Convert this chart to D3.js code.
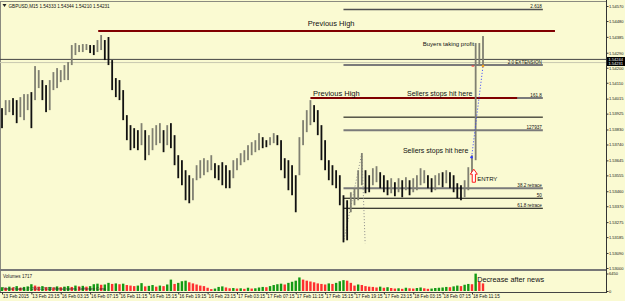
<!DOCTYPE html>
<html>
<head>
<meta charset="utf-8">
<script src="https://cdn.jsdelivr.net/npm/d3@7"></script>
<style>
  body { margin: 0; background: #fafad2; }
  svg { display: block; font-family: "Liberation Sans", Arial, sans-serif; }
</style>
</head>
<body>
<div id="container"></div>
<script>
'use strict'

// GBPUSD M15, shown here as 30 min bars
const timeLabels = ['13 Feb 2015','13 Feb 23:15','16 Feb 03:15','16 Feb 07:15','16 Feb 11:15','16 Feb 15:15',
  '16 Feb 19:15','16 Feb 23:15','17 Feb 03:15','17 Feb 07:15','17 Feb 11:15','17 Feb 15:15','17 Feb 19:15',
  '17 Feb 23:15','18 Feb 03:15','18 Feb 07:15','18 Feb 11:15']

const priceTicks = [1.54570,1.54480,1.54385,1.54290,1.54200,1.54110,1.54015,1.53925,1.53830,
  1.53740,1.53645,1.53555,1.53460,1.53370,1.53275,1.53185,1.53090,1.53000]

const highs = [
  1.53958,1.54006,1.54006,1.54018,1.54006,1.54024,1.54042,1.54042,1.54054,1.54210,
  1.54186,1.54126,1.54096,1.54126,1.54174,1.54198,1.54186,1.54216,1.54234,1.54336,
  1.54348,1.54336,1.54342,1.54342,1.54336,1.54336,1.54366,1.54396,1.54366,1.54384,
  1.54246,1.54138,1.54126,1.54066,1.53916,1.53856,1.53838,1.53826,1.53868,1.53826,
  1.53796,1.53838,1.53856,1.53868,1.53826,1.53856,1.53868,1.53796,1.53676,1.53646,
  1.53586,1.53556,1.53538,1.53616,1.53646,1.53658,1.53646,1.53676,1.53628,1.53616,
  1.53634,1.53616,1.53586,1.53646,1.53658,1.53688,1.53706,1.53736,1.53754,1.53766,
  1.53808,1.53784,1.53766,1.53784,1.53808,1.53796,1.53766,1.53658,1.53646,1.53616,
  1.53556,1.53784,1.53886,1.53946,1.54006,1.53976,1.53946,1.53856,1.53766,1.53646,
  1.53616,1.53586,1.53556,1.53436,1.53406,1.53454,1.53478,1.53586,1.53688,1.53586,
  1.53556,1.53598,1.53610,1.53574,1.53556,1.53526,1.53538,1.53514,1.53538,1.53526,
  1.53544,1.53526,1.53538,1.53556,1.53598,1.53586,1.53556,1.53538,1.53556,1.53568,
  1.53574,1.53586,1.53574,1.53556,1.53508,1.53496,1.53526,1.53604,1.53676,1.54348,
  1.54348,1.54390]

const lows = [
  1.53838,1.53916,1.53934,1.53916,1.53868,1.53904,1.53886,1.53946,1.53838,1.54006,
  1.54078,1.54006,1.53934,1.53946,1.54066,1.54078,1.54114,1.54126,1.54126,1.54216,
  1.54276,1.54294,1.54294,1.54306,1.54288,1.54276,1.54294,1.54306,1.54246,1.54216,
  1.54066,1.54024,1.54006,1.53886,1.53766,1.53706,1.53718,1.53706,1.53736,1.53646,
  1.53676,1.53706,1.53736,1.53748,1.53694,1.53736,1.53718,1.53616,1.53538,1.53496,
  1.53406,1.53388,1.53406,1.53526,1.53538,1.53556,1.53574,1.53586,1.53538,1.53526,
  1.53496,1.53478,1.53478,1.53538,1.53586,1.53616,1.53634,1.53646,1.53676,1.53694,
  1.53706,1.53718,1.53724,1.53736,1.53748,1.53736,1.53586,1.53538,1.53466,1.53436,
  1.53334,1.53556,1.53736,1.53814,1.53856,1.53874,1.53796,1.53646,1.53586,1.53526,
  1.53496,1.53478,1.53376,1.53154,1.53166,1.53334,1.53376,1.53406,1.53496,1.53448,
  1.53454,1.53496,1.53514,1.53478,1.53454,1.53436,1.53448,1.53430,1.53454,1.53424,
  1.53466,1.53436,1.53454,1.53466,1.53496,1.53508,1.53478,1.53454,1.53466,1.53496,
  1.53484,1.53508,1.53478,1.53454,1.53418,1.53406,1.53424,1.53466,1.53574,1.53646,
  1.54210,1.54210]

const volumes = [
  1400,1100,1600,1300,1800,1200,1500,1700,2500,2000,
  1600,1800,1400,1500,1300,1700,1400,1600,1800,1500,
  2000,1700,1900,1600,1800,2500,2700,2300,2400,3000,
  2600,2800,2500,2700,2200,2000,1800,2000,2900,1700,
  1900,2200,1600,2000,1800,2400,4200,2600,3000,3600,
  3800,3200,2800,2400,2000,1800,1200,700,900,1500,
  1700,1300,1000,1100,900,1000,800,1200,900,1000,
  1300,1500,1400,1800,2200,2500,2700,2400,3000,3400,
  3800,5000,4200,3800,3500,3200,2800,2600,2400,2800,
  2600,3000,3600,4000,3800,3000,2000,2400,2200,1800,
  1600,1500,1300,1600,1200,1400,1100,900,1000,800,
  1200,1000,900,1100,1300,1000,800,900,1100,1200,
  1300,1500,1400,1700,2000,1800,2300,2600,2500,6400,
  3400,2800]

// fibonacci expansion levels
const fibLevels = [1.54549, 1.54216, 1.54018, 1.53904, 1.53826, 1.53478, 1.53418, 1.53358]
const fibNames = ['2.618', '2.0 EXTENSION', '161.8', '', '127937', '38.2 retrace', '50', '61.8 retrace']
const prevHighs = [1.54420, 1.54018]

const w = 625, h = 301
const axisX = 606
const small = 4.6
const axisFont = 4.0

const x = d3.scaleLinear().domain([0, highs.length - 1]).range([2, 483])
const y = d3.scaleLinear().domain([1.53, 1.5457]).range([268, 6])
const yv = d3.scaleLinear().domain([0, 6450]).range([291, 273.5])

const svg = d3.select('#container').append('svg').attr('width', w).attr('height', h)

svg.append('rect').attr('width', w).attr('height', h).attr('fill', '#fafad2')

// frame + panel separator
svg.append('line').attr('x1', 0).attr('x2', axisX).attr('y1', 1.5).attr('y2', 1.5).attr('stroke', '#8a8a80')
svg.append('line').attr('x1', 0.5).attr('x2', 0.5).attr('y1', 1).attr('y2', 292).attr('stroke', '#8a8a80')
svg.append('line').attr('x1', 0).attr('x2', axisX).attr('y1', 270).attr('y2', 270).attr('stroke', '#777').attr('stroke-width', 2)
svg.append('line').attr('x1', 0).attr('x2', axisX).attr('y1', 292.5).attr('y2', 292.5).attr('stroke', '#444')

// bid / ask lines
svg.append('line').attr('x1', 0).attr('x2', axisX).attr('y1', y(1.54250)).attr('y2', y(1.54250)).attr('stroke', '#444')
svg.append('line').attr('x1', 0).attr('x2', axisX).attr('y1', y(1.54231)).attr('y2', y(1.54231)).attr('stroke', '#c8c8b0')

// fib lines
const fibStart = 93, fibEnd = 147.3
const fibColor = i => [3, 6, 7].includes(i) ? '#000' : (i === 0 ? '#505050' : '#7a7a7a')
const fibWidth = i => [3, 6, 7].includes(i) ? 1 : (i === 0 ? 1.4 : 2)
svg.append('g').selectAll('line').data(fibLevels).enter().append('line')
  .attr('x1', x(fibStart)).attr('x2', x(fibEnd))
  .attr('y1', d => y(d)).attr('y2', d => y(d))
  .attr('stroke', (d, i) => fibColor(i)).attr('stroke-width', (d, i) => fibWidth(i))
svg.append('g').selectAll('text').data(fibLevels).enter().append('text')
  .attr('x', x(fibEnd) - 1).attr('y', d => y(d) - 1.5)
  .attr('text-anchor', 'end').attr('font-size', small).attr('fill', '#111')
  .text((d, i) => fibNames[i])

// previous high lines
const phSpans = [[26.2, 150.6], [84, 140.3]]
svg.append('g').selectAll('line').data(prevHighs).enter().append('line')
  .attr('x1', (d, i) => x(phSpans[i][0])).attr('x2', (d, i) => x(phSpans[i][1]))
  .attr('y1', d => y(d)).attr('y2', d => y(d))
  .attr('stroke', '#800000').attr('stroke-width', 2)

// dotted fib trend lines
const dotted = (a, b, color) => svg.append('line')
  .attr('x1', x(a[0])).attr('y1', y(a[1])).attr('x2', x(b[0])).attr('y2', y(b[1]))
  .attr('stroke', color).attr('stroke-width', 1).attr('stroke-dasharray', '1,2')
dotted([93, 1.53154], [98, 1.53688], '#8a8a8a')
dotted([98, 1.53688], [98.9, 1.53148], '#8a8a8a')

// price bars
const mid = i => (highs[i] + lows[i]) / 2
svg.append('g').selectAll('rect').data(highs).enter().append('rect')
  .attr('x', (d, i) => x(i) - 0.9)
  .attr('y', d => y(d))
  .attr('width', 1.8)
  .attr('height', (d, i) => Math.max(1, y(lows[i]) - y(d)))
  .attr('fill', (d, i) => (i > 0 && mid(i) >= mid(i - 1)) ? '#808072' : '#111')

dotted([127.9, 1.53664], [131, 1.54210], '#2f3cff')
svg.append('circle').attr('cx', x(127.9)).attr('cy', y(1.53664)).attr('r', 1.3).attr('fill', '#2f3cff')
svg.append('circle').attr('cx', x(131)).attr('cy', y(1.54210)).attr('r', 1.3).attr('fill', '#f0a020')
svg.append('line').attr('x1', x(127.9)).attr('x2', x(128.6)).attr('y1', y(1.54210)).attr('y2', y(1.54210))
  .attr('stroke', '#ff3030').attr('stroke-width', 1)

// entry arrow
const ax = x(128.5), at = y(1.53592), ab = y(1.53514)
svg.append('path')
  .attr('d', `M${ax},${at} L${ax + 3.5},${at + 5} L${ax + 1.6},${at + 5} L${ax + 1.6},${ab} L${ax - 1.6},${ab} L${ax - 1.6},${at + 5} L${ax - 3.5},${at + 5} Z`)
  .attr('fill', '#fff').attr('stroke', '#ff1a1a').attr('stroke-width', 1)

// annotations
const note = (t, i, p, size, sc) => svg.append('text')
  .attr('x', x(i)).attr('y', (sc || y)(p)).attr('font-size', size).attr('fill', '#111').text(t)
note('Previous High', 83.3, 1.54450, 7.5)
note('Buyers taking profit', 114.6, 1.54330, 6)
note('Previous High', 84.7, 1.54030, 7.5)
note('Sellers stops hit here', 110.3, 1.54030, 7)
note('Sellers stops hit here', 109.2, 1.53688, 7)
note('ENTRY', 129.4, 1.53520, 6)

// volumes
svg.append('g').selectAll('rect').data(volumes).enter().append('rect')
  .attr('x', (d, i) => x(i) - 1.2)
  .attr('y', d => yv(d))
  .attr('width', 2.4)
  .attr('height', d => yv(0) - yv(d))
  .attr('fill', (d, i) => (i === 0 || d > volumes[i - 1]) ? '#139a13' : '#ff2f2f')
note('Decrease after news', 129.4, 3300, 7.3, yv)

svg.append('text').attr('x', 3).attr('y', 278).attr('font-size', small).attr('fill', '#222').text('Volumes 1717')
svg.append('text').attr('x', 3).attr('y', 290).attr('font-size', 4.3).attr('fill', '#222')
  .text('MetaTrader, © 2001-2014 MetaQuotes Software Corp.')

// title
svg.append('path').attr('d', 'M2.5,4 L6.5,4 L4.5,7 Z').attr('fill', '#222')
svg.append('text').attr('x', 8.5).attr('y', 7.8).attr('font-size', small).attr('fill', '#111')
  .text('GBPUSD,M15  1.54333 1.54344 1.54210 1.54231')

// axes
svg.append('line').attr('x1', axisX + 0.5).attr('x2', axisX + 0.5).attr('y1', 0).attr('y2', 293).attr('stroke', '#333')

const yAxis = d3.axisRight(y).tickValues(priceTicks).tickSize(2.5).tickSizeOuter(0).tickFormat(d3.format('.5f'))
const gy = svg.append('g').attr('transform', `translate(${axisX},0)`).call(yAxis)
const yvAxis = d3.axisRight(yv).tickValues([0, 6450]).tickSize(2.5).tickSizeOuter(0).tickFormat(d3.format('d'))
const gv = svg.append('g').attr('transform', `translate(${axisX},0)`).call(yvAxis)
const xAxis = d3.axisBottom(x).tickValues(d3.range(0, 129, 8)).tickSize(2).tickSizeOuter(0)
  .tickFormat(d => timeLabels[d / 8])
const gx = svg.append('g').attr('transform', 'translate(0,292.5)').call(xAxis)

;[gy, gv, gx].forEach(g => {
  g.select('.domain').remove()
  g.selectAll('line').attr('stroke', '#333')
  g.selectAll('text').attr('font-size', small).attr('fill', '#111').attr('font-family', '"Liberation Sans", Arial, sans-serif')
})
gy.selectAll('text').attr('x', 3).attr('font-size', axisFont)
gv.selectAll('text').attr('x', 3).attr('font-size', axisFont)
gx.selectAll('text').attr('text-anchor', 'start').attr('x', 0.5).attr('dy', '0.55em').attr('y', 2.5)

// current price marker
svg.append('rect').attr('x', axisX + 1).attr('y', 57).attr('width', w - axisX - 1).attr('height', 9).attr('fill', '#000')
svg.append('text').attr('x', axisX + 2.5).attr('y', 61).attr('font-size', axisFont).attr('fill', '#fff').text('1.54244')
svg.append('text').attr('x', axisX + 2.5).attr('y', 65.3).attr('font-size', axisFont).attr('fill', '#fff').text('1.54231')
</script>
</body>
</html>
